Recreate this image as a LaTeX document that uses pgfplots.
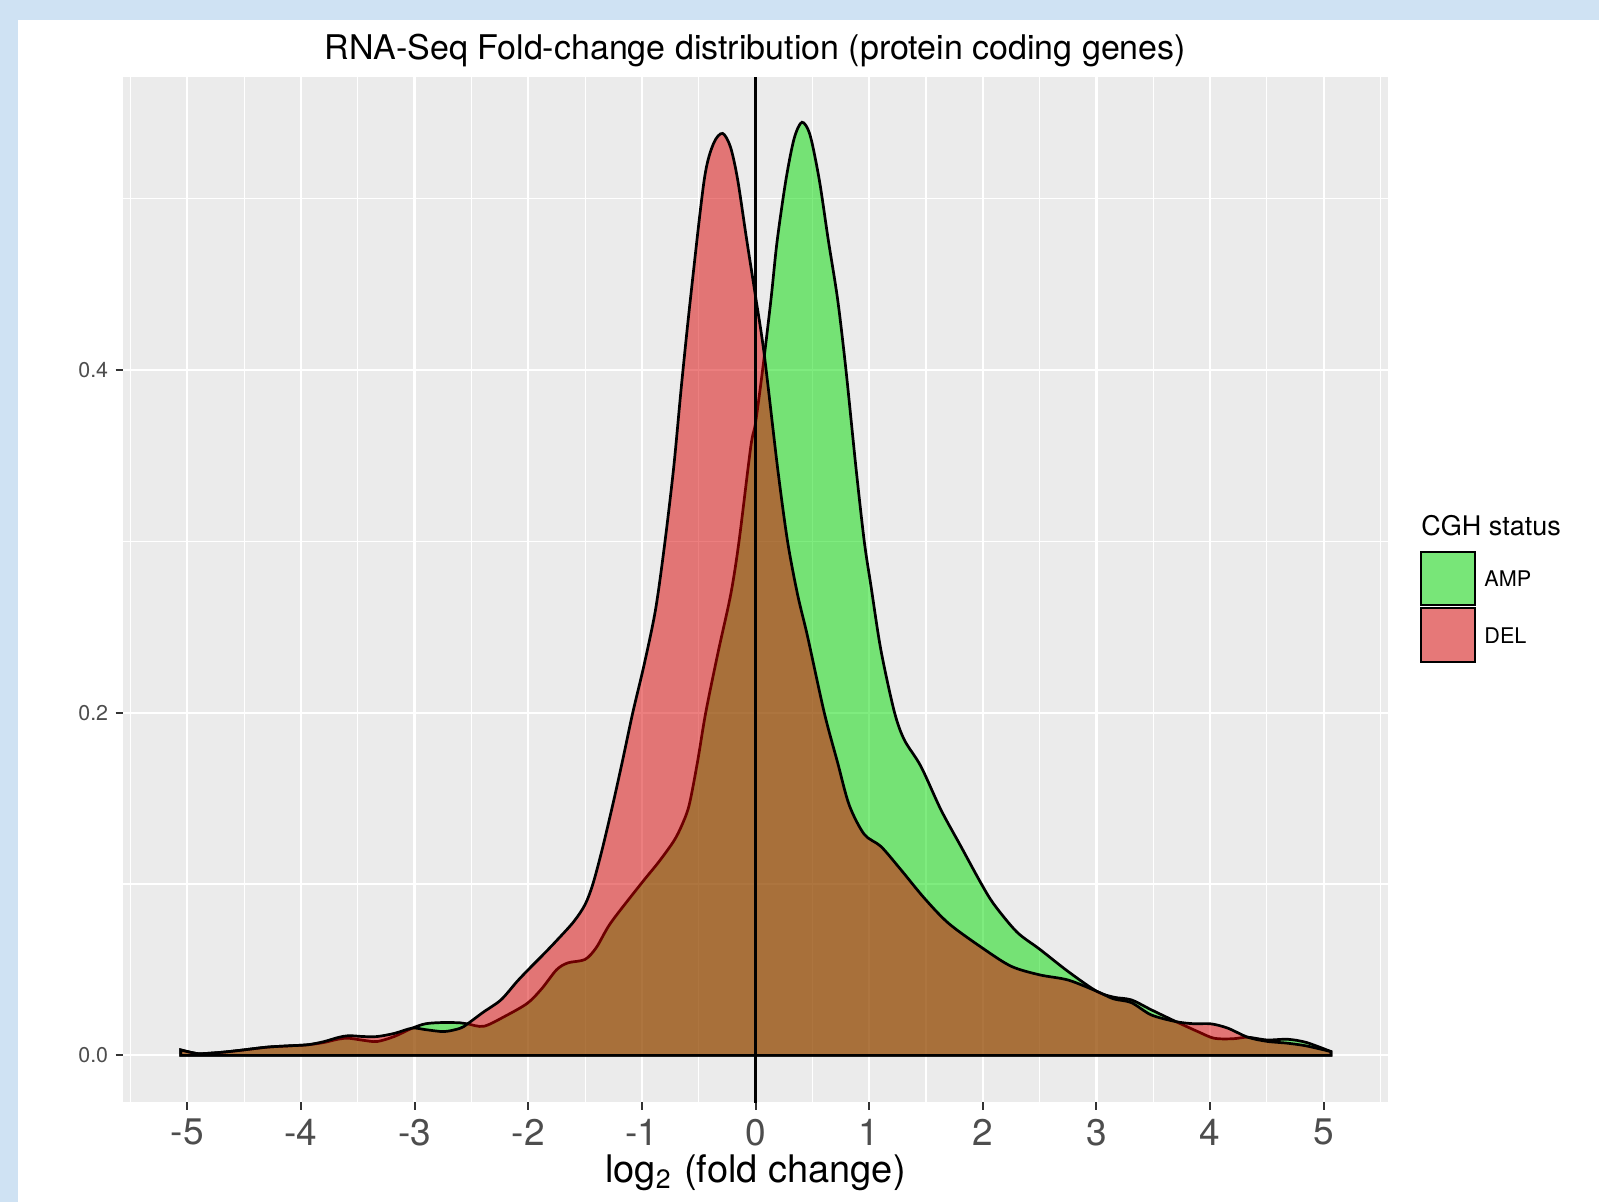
\documentclass[border=0pt]{standalone}
\usepackage{fontspec}
\setmainfont{TeX Gyre Heros}
\usepackage{pgfplots}
\pgfplotsset{compat=1.18}

\definecolor{frameblue}{HTML}{CFE2F3}
\definecolor{panelgray}{HTML}{EBEBEB}
\definecolor{tickgray}{HTML}{333333}
\definecolor{labgray}{HTML}{4D4D4D}
\definecolor{keygray}{HTML}{F2F2F2}
\definecolor{ampfill}{RGB}{0,219,0}
\definecolor{delfill}{RGB}{219,0,0}

% 1 px of the reference = 0.5pt
\begin{document}
\begin{tikzpicture}
\useasboundingbox (0,0) rectangle (799.5pt,-601pt);
\fill[frameblue] (0,0) rectangle (799.5pt,-601pt);
\fill[white] (9pt,-10pt) rectangle (799.5pt,-601pt);

\node[anchor=base, font=\fontsize{17}{20}\selectfont] at (377.75pt,-30pt)
  {RNA-Seq Fold-change distribution (protein coding genes)};

\begin{axis}[
    at={(61.5pt,-551pt)}, anchor=south west,
    scale only axis,
    width=632.5pt, height=512.5pt,
    xmin=-5.566, xmax=5.566,
    ymin=-0.0272, ymax=0.5709,
    axis background/.style={fill=panelgray},
    axis line style={draw=none},
    xtick={-5,-4,...,5},
    xticklabels={-5,-4,-3,-2,-1,0,1,2,3,4,5},
    minor xtick={-5.5,-4.5,...,5.5},
    ytick={0,0.2,0.4},
    minor ytick={0.1,0.3,0.5},
    yticklabel style={/pgf/number format/fixed, /pgf/number format/fixed zerofill, /pgf/number format/precision=1},
    /pgf/number format/assume math mode=true,
    xtick pos=bottom, ytick pos=left,
    tick align=outside,
    major tick length=3.75pt,
    minor tick length=0pt,
    tick style={draw=tickgray, line width=1pt},
    grid=both,
    major grid style={white, line width=1.1pt},
    minor grid style={white, line width=0.55pt},
    xticklabel style={font=\fontsize{18.5}{20}\selectfont, text=labgray, anchor=north, inner sep=0pt, yshift=-4.5pt},
    yticklabel style={font=\fontsize{10.7}{12}\selectfont, text=labgray, anchor=east, inner sep=0pt, xshift=-3.5pt},
    xlabel={log\textsubscript{2}\kern1pt\ (fold change)},
    xlabel style={font=\fontsize{19}{22}\selectfont, inner sep=0pt, at={(axis description cs:0.5,0)}, anchor=base, yshift=-40pt},
    clip=true,
]

% AMP density
\addplot[fill=ampfill, fill opacity=0.5, draw=black, draw opacity=1, line width=1.35pt, smooth, tension=0.5] coordinates {
(-5.058,0.0032) (-4.95,0.0015) (-4.88,0.0010) (-4.7,0.0018) (-4.53,0.0030) (-4.3,0.0048)
(-4.1,0.0056) (-3.94,0.0062) (-3.8,0.0075) (-3.67,0.0095) (-3.58,0.0100) (-3.45,0.0088)
(-3.33,0.0081) (-3.18,0.0110) (-3.02,0.0159) (-2.9,0.0185) (-2.74,0.0192) (-2.6,0.0190)
(-2.534,0.0184) (-2.39,0.0170) (-2.2,0.023) (-2.006,0.0305) (-1.88,0.039) (-1.75,0.050)
(-1.65,0.054) (-1.5,0.056) (-1.4,0.063) (-1.273,0.0774) (-1.009,0.100) (-0.85,0.113)
(-0.72,0.125) (-0.65,0.134) (-0.584,0.146) (-0.511,0.171) (-0.438,0.200) (-0.33,0.235)
(-0.218,0.269) (-0.145,0.300) (-0.042,0.355) (0,0.369) (0.0625,0.400) (0.136,0.441)
(0.19,0.475) (0.268,0.511) (0.34,0.535) (0.409,0.5445) (0.48,0.537) (0.561,0.511)
(0.64,0.476) (0.723,0.441) (0.796,0.400) (0.884,0.343) (0.957,0.300) (1.016,0.274)
(1.103,0.2367) (1.221,0.2007) (1.309,0.1842) (1.456,0.1686) (1.632,0.1433)
(1.808,0.1219) (1.984,0.1005) (2.1,0.088) (2.3,0.072) (2.5,0.062) (2.75,0.049)
(3.0,0.0375) (3.15,0.034) (3.307,0.0324) (3.483,0.0266) (3.70,0.0197) (3.892,0.0139)
(4.036,0.0100) (4.2,0.0097) (4.332,0.0106) (4.5,0.0090) (4.684,0.0094) (4.85,0.0075)
(5.065,0.0022)
} \closedcycle;

% DEL density
\addplot[fill=delfill, fill opacity=0.5, draw=black, draw opacity=1, line width=1.35pt, smooth, tension=0.5] coordinates {
(-5.058,0.0032) (-4.95,0.0015) (-4.88,0.0010) (-4.7,0.0018) (-4.53,0.0030) (-4.3,0.0048)
(-4.1,0.0056) (-3.94,0.0062) (-3.8,0.0080) (-3.67,0.0105) (-3.58,0.0115) (-3.45,0.0110)
(-3.33,0.0110) (-3.18,0.0128) (-3.02,0.0159) (-2.9,0.0150) (-2.74,0.0139) (-2.6,0.0158)
(-2.534,0.0184) (-2.4,0.025) (-2.24,0.0324) (-2.1,0.043) (-2.0,0.050) (-1.88,0.058)
(-1.75,0.067) (-1.6,0.078) (-1.5,0.088) (-1.431,0.100) (-1.35,0.120) (-1.257,0.146)
(-1.17,0.172) (-1.08,0.200) (-0.98,0.228) (-0.88,0.260) (-0.80,0.298) (-0.72,0.343)
(-0.65,0.392) (-0.57,0.443) (-0.451,0.511) (-0.37,0.532) (-0.29,0.538) (-0.22,0.530)
(-0.157,0.511) (-0.08,0.477) (0,0.443) (0.077,0.409) (0.194,0.343) (0.282,0.300)
(0.37,0.269) (0.458,0.2445) (0.605,0.200) (0.722,0.171) (0.825,0.146) (0.957,0.129)
(1.104,0.1219) (1.28,0.1083) (1.485,0.0918) (1.7,0.077) (2.0,0.0625) (2.25,0.052)
(2.5,0.047) (2.75,0.044) (3.0,0.0375) (3.15,0.033) (3.307,0.0308) (3.483,0.0236)
(3.70,0.0197) (3.85,0.0185) (4.009,0.0184) (4.156,0.0159) (4.332,0.0106) (4.5,0.0082)
(4.684,0.0071) (4.85,0.0055) (5.065,0.0022)
} \closedcycle;

% reference line at zero
\addplot[black, line width=1.2pt] coordinates {(0,-0.03) (0,0.58)};

\end{axis}

% legend
\node[anchor=base west, inner sep=0pt, font=\fontsize{13.5}{16}\selectfont] at (710.5pt,-268pt) {CGH status};
\fill[keygray] (710.5pt,-276pt) rectangle (737.5pt,-302.5pt);
\fill[ampfill, fill opacity=0.5] (710.5pt,-276pt) rectangle (737.5pt,-302.5pt);
\draw[black, line width=1.1pt] (710.5pt,-276pt) rectangle (737.5pt,-302.5pt);
\fill[keygray] (710.5pt,-304pt) rectangle (737.5pt,-331pt);
\fill[delfill, fill opacity=0.5] (710.5pt,-304pt) rectangle (737.5pt,-331pt);
\draw[black, line width=1.1pt] (710.5pt,-304pt) rectangle (737.5pt,-331pt);
\node[anchor=west, inner sep=0pt, font=\fontsize{10.8}{12}\selectfont] at (742pt,-289.5pt) {AMP};
\node[anchor=west, inner sep=0pt, font=\fontsize{10.8}{12}\selectfont] at (742pt,-318pt) {DEL};
\end{tikzpicture}
\end{document}
